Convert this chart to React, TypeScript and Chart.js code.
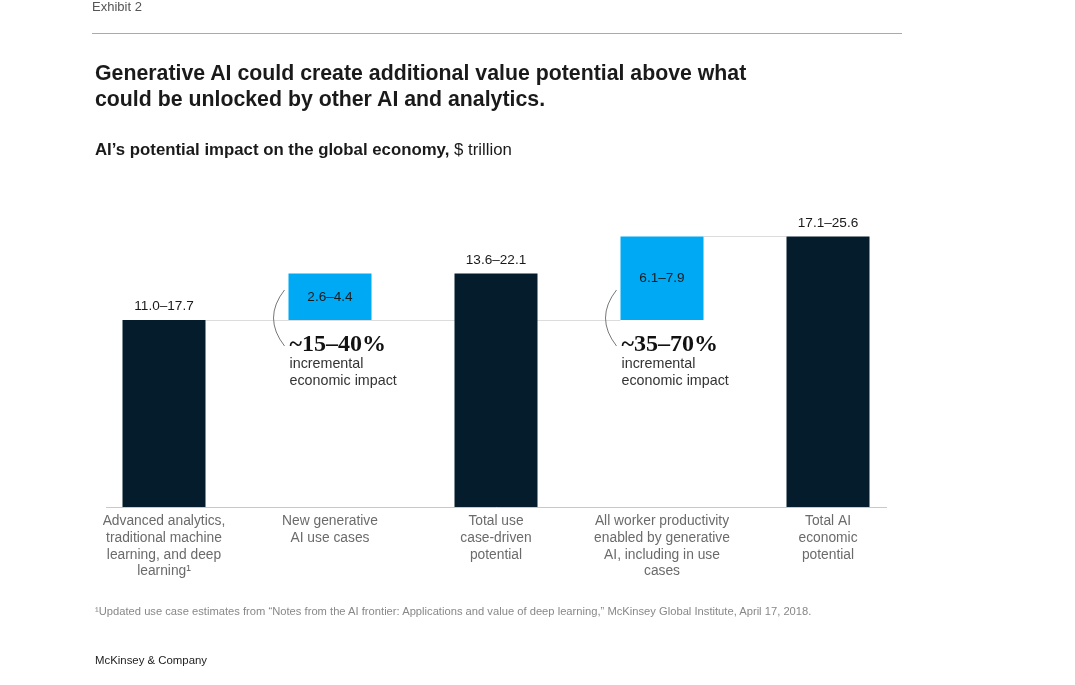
import React, { useEffect, useRef } from "react";
import { Chart, registerables } from "chart.js";

Chart.register(...registerables);

const categories: string[][] = [
  ["Advanced analytics,", "traditional machine", "learning, and deep", "learning¹"],
  ["New generative", "AI use cases"],
  ["Total use", "case-driven", "potential"],
  ["All worker productivity", "enabled by generative", "AI, including in use", "cases"],
  ["Total AI", "economic", "potential"],
];
const rangeLow = [11.0, 2.6, 13.6, 6.1, 17.1];
const rangeHigh = [17.7, 4.4, 22.1, 7.9, 25.6];
const barKinds = ["total", "increment", "total", "increment", "total"];
const impactLabels = ["", "~15–40%", "", "~35–70%", ""];
const impactCaption = ["incremental", "economic impact"];
const yTicks = { min: 0, max: 30 };

const DARK = "#051c2c";
const BLUE = "#00a9f4";
const SANS = '"Liberation Sans", Arial, sans-serif';
const SERIF = '"Liberation Serif", "DejaVu Serif", serif';

const rangeLabels = rangeLow.map((lo, i) => `${lo.toFixed(1)}–${rangeHigh[i].toFixed(1)}`);
const incrementBase = rangeHigh[0];
const floatingData = barKinds.map((k, i) =>
  k === "total" ? [0, rangeHigh[i]] : [incrementBase, +(incrementBase + rangeHigh[i]).toFixed(1)]
);

const decorPlugin = {
  id: "decor",
  beforeDatasetsDraw(chart: any) {
    const { ctx, chartArea, scales } = chart;
    const meta = chart.getDatasetMeta(0);
    const y = scales.y;
    ctx.save();
    ctx.strokeStyle = "#c9c9c9";
    ctx.lineWidth = 1;
    const y0 = Math.round(y.getPixelForValue(0)) + 0.5;
    ctx.beginPath();
    ctx.moveTo(chartArea.left + 25, y0);
    ctx.lineTo(chartArea.right - 24, y0);
    ctx.stroke();
    ctx.strokeStyle = "#dcdcdc";
    const bars = meta.data;
    const left = (b: any) => b.x - b.width / 2;
    const right = (b: any) => b.x + b.width / 2;
    const incIdx = barKinds.map((k, i) => (k === "increment" ? i : -1)).filter((i) => i >= 0);
    const lastInc = incIdx[incIdx.length - 1];
    const yb = Math.round(y.getPixelForValue(incrementBase)) + 0.5;
    ctx.beginPath();
    ctx.moveTo(right(bars[0]), yb);
    ctx.lineTo(left(bars[lastInc]), yb);
    ctx.stroke();
    const yt = Math.round(y.getPixelForValue(floatingData[lastInc][1])) + 0.5;
    ctx.beginPath();
    ctx.moveTo(right(bars[lastInc]), yt);
    ctx.lineTo(left(bars[lastInc + 1]), yt);
    ctx.stroke();
    ctx.restore();
  },
  afterDatasetsDraw(chart: any) {
    const { ctx, scales } = chart;
    const meta = chart.getDatasetMeta(0);
    const y = scales.y;
    ctx.save();
    const baseY = y.getPixelForValue(0);
    meta.data.forEach((b: any, i: number) => {
      const top = y.getPixelForValue(floatingData[i][1]);
      const bottom = y.getPixelForValue(floatingData[i][0]);
      const bl = b.x - b.width / 2;
      ctx.textAlign = "center";
      ctx.textBaseline = "middle";
      ctx.font = `13.6px ${SANS}`;
      ctx.fillStyle = "#1a1a1a";
      if (barKinds[i] === "total") {
        ctx.fillText(rangeLabels[i], b.x, top - 13.5);
      } else {
        ctx.fillText(rangeLabels[i], b.x, (top + bottom) / 2 + 0.5);
        ctx.strokeStyle = "#777";
        ctx.lineWidth = 1;
        ctx.beginPath();
        ctx.moveTo(bl - 4, bottom - 30);
        ctx.quadraticCurveTo(bl - 26, bottom - 2, bl - 4, bottom + 26);
        ctx.stroke();
        ctx.textAlign = "left";
        ctx.font = `bold 24px ${SERIF}`;
        ctx.fillStyle = "#111";
        ctx.fillText(impactLabels[i], bl + 1, bottom + 24.5);
        ctx.font = `14.3px ${SANS}`;
        ctx.fillStyle = "#333";
        impactCaption.forEach((t, j) => ctx.fillText(t, bl + 1, bottom + 44.5 + j * 17));
      }
      ctx.textAlign = "center";
      ctx.font = `13.8px ${SANS}`;
      ctx.fillStyle = "#6b6b6b";
      categories[i].forEach((t, j) => ctx.fillText(t, b.x, baseY + 14.5 + j * 16.7));
    });
    ctx.restore();
  },
};

export default function App() {
  const ref = useRef<HTMLCanvasElement>(null);
  useEffect(() => {
    if (!ref.current) return;
    const chart = new Chart(ref.current, {
      type: "bar",
      data: {
        labels: categories.map((c) => c.join(" ")),
        datasets: [
          {
            data: floatingData as any,
            backgroundColor: barKinds.map((k) => (k === "total" ? DARK : BLUE)),
            borderWidth: 0,
            barPercentage: 0.5,
            categoryPercentage: 1,
          },
        ],
      },
      options: {
        animation: false,
        responsive: false,
        maintainAspectRatio: false,
        layout: { padding: { left: 81, right: 164, top: 190, bottom: 178 } },
        plugins: { legend: { display: false }, tooltip: { enabled: false }, title: { display: false } },
        scales: {
          x: { display: false, grid: { display: false } },
          y: { display: false, min: yTicks.min, max: yTicks.max },
        },
      },
      plugins: [decorPlugin],
    });
    return () => chart.destroy();
  }, []);

  const abs = (o: React.CSSProperties): React.CSSProperties => ({ position: "absolute", margin: 0, whiteSpace: "nowrap", ...o });

  return (
    <div style={{ position: "absolute", left: 0, top: 0, width: 1075, height: 685, background: "#fff", fontFamily: SANS, overflow: "hidden" }}>
      <canvas ref={ref} width={1075} height={685} style={{ position: "absolute", left: 0, top: 0, width: 1075, height: 685 }} />
      <div style={abs({ left: 92, top: -1, fontSize: 13, lineHeight: "16px", color: "#555" })}>Exhibit 2</div>
      <div style={abs({ left: 92, top: 33, width: 810, height: 1, background: "#aaa" })} />
      <div style={abs({ left: 95, top: 60, fontSize: 21.3, lineHeight: "26px", fontWeight: "bold", color: "#1a1a1a" })}>
        Generative AI could create additional value potential above what
        <br />
        could be unlocked by other AI and analytics.
      </div>
      <div style={abs({ left: 95, top: 140, fontSize: 16.8, lineHeight: "20px", color: "#1a1a1a" })}>
        <b>AI’s potential impact on the global economy,</b> $ trillion
      </div>
      <div style={abs({ left: 95, top: 604, fontSize: 11.2, lineHeight: "14px", color: "#888" })}>
        ¹Updated use case estimates from “Notes from the AI frontier: Applications and value of deep learning,” McKinsey Global Institute, April 17, 2018.
      </div>
      <div style={abs({ left: 95, top: 652, fontSize: 11.4, lineHeight: "16px", color: "#222" })}>McKinsey &amp; Company</div>
    </div>
  );
}
